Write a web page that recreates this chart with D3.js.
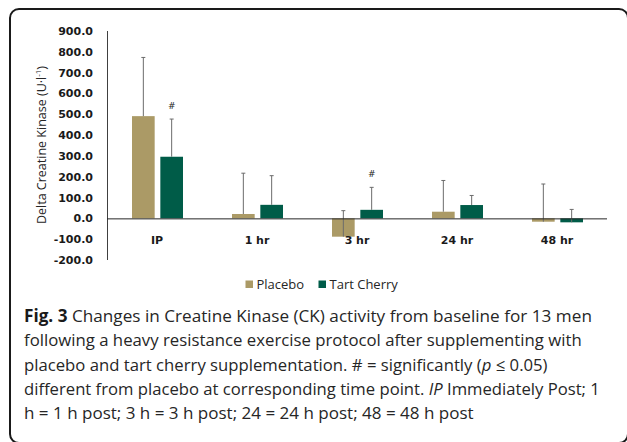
<!DOCTYPE html>
<html>
<head>
<meta charset="utf-8">
<script src="https://cdn.jsdelivr.net/npm/d3@7"></script>
<style>
  body { margin: 0; background: #fff; }
</style>
</head>
<body>
<div id="chart"></div>
<script>
const width = 627;
const height = 442;

const timePoints = ["IP", "1 hr", "3 hr", "24 hr", "48 hr"];
const seriesNames = ["Placebo", "Tart Cherry"];
const placeboMean = [491, 21, -88, 32, -16];
const placeboSD = [282, 196, 125, 150, 181];
const cherryMean = [296, 65, 41, 64, -19];
const cherrySD = [181, 140, 108, 46, 62];
const significant = [true, false, true, false, false];
const yTicks = [-200, -100, 0, 100, 200, 300, 400, 500, 600, 700, 800, 900];

const color = d3.scaleOrdinal()
  .domain(seriesNames)
  .range(["#ab9a66", "#005c48"]);

const rows = [];
timePoints.forEach(function(t, i) {
  rows.push({ time: t, series: "Placebo", mean: placeboMean[i], sd: placeboSD[i], sig: false });
  rows.push({ time: t, series: "Tart Cherry", mean: cherryMean[i], sd: cherrySD[i], sig: significant[i] });
});

const svg = d3.select("#chart")
  .append("svg")
  .attr("width", width)
  .attr("height", height);

// rounded frame round the figure (runs off the right and bottom edges)
svg.append("rect")
  .attr("x", 10)
  .attr("y", 9)
  .attr("width", 618)
  .attr("height", 434)
  .attr("rx", 9)
  .attr("fill", "none")
  .attr("stroke", "#1a1a1a")
  .attr("stroke-width", 2);

const x = d3.scaleBand()
  .domain(timePoints)
  .range([107, 607]);

const xInner = d3.scaleBand()
  .domain(seriesNames)
  .range([25, 76])
  .paddingInner(0.2);

const y = d3.scaleLinear()
  .domain([-200, 900])
  .range([260, 31]);

// y axis line and labels
svg.append("line")
  .attr("x1", 107.5).attr("x2", 107.5)
  .attr("y1", y(900)).attr("y2", y(-200))
  .attr("stroke", "#404040");

svg.selectAll(".ytick")
  .data(yTicks)
  .enter()
  .append("text")
  .attr("x", 93)
  .attr("y", function(d) { return y(d); })
  .attr("dy", "0.36em")
  .attr("text-anchor", "end")
  .style("font", "bold 11px 'DejaVu Sans'")
  .attr("fill", "#1a1a1a")
  .text(function(d) { return d3.format(".1f")(d).replace("−", "-"); });

const title = svg.append("text")
  .attr("transform", "translate(46," + 145 + ") rotate(-90)")
  .attr("text-anchor", "middle")
  .style("font", "12.5px 'Open Sans'")
  .attr("fill", "#262626");
title.append("tspan").text("Delta Creatine Kinase (U·l");
title.append("tspan").attr("baseline-shift", "super").style("font-size", "8px").text("-1");
title.append("tspan").text(")");

// bars
const group = svg.selectAll(".bar")
  .data(rows)
  .enter()
  .append("g")
  .attr("transform", function(d) {
    return "translate(" + (x(d.time) + xInner(d.series)) + ",0)";
  });

group.append("rect")
  .attr("y", function(d) { return y(Math.max(0, d.mean)); })
  .attr("width", xInner.bandwidth())
  .attr("height", function(d) { return Math.abs(y(d.mean) - y(0)); })
  .attr("fill", function(d) { return color(d.series); });

// error bars (plus direction only)
const bw = xInner.bandwidth();
group.append("line")
  .attr("x1", bw / 2).attr("x2", bw / 2)
  .attr("y1", function(d) { return y(d.mean); })
  .attr("y2", function(d) { return y(d.mean + d.sd); })
  .attr("stroke", "#6b6b6b")
  .attr("stroke-width", 1);

group.append("line")
  .attr("x1", bw / 2 - 2).attr("x2", bw / 2 + 2)
  .attr("y1", function(d) { return y(d.mean + d.sd); })
  .attr("y2", function(d) { return y(d.mean + d.sd); })
  .attr("stroke", "#6b6b6b")
  .attr("stroke-width", 1);

group.filter(function(d) { return d.sig; })
  .append("text")
  .attr("x", bw / 2)
  .attr("y", function(d) { return y(d.mean + d.sd) - 10; })
  .attr("text-anchor", "middle")
  .style("font", "9px 'DejaVu Sans'")
  .attr("fill", "#262626")
  .text("#");

// zero line
svg.append("line")
  .attr("x1", 107).attr("x2", 607)
  .attr("y1", y(0) + 0.5).attr("y2", y(0) + 0.5)
  .attr("stroke", "#262626");

// category labels
svg.selectAll(".xlabel")
  .data(timePoints)
  .enter()
  .append("text")
  .attr("x", function(d) { return x(d) + x.bandwidth() / 2; })
  .attr("y", 244)
  .attr("text-anchor", "middle")
  .style("font", "bold 11px 'DejaVu Sans'")
  .attr("fill", "#1a1a1a")
  .text(function(d) { return d; });

// legend
const legendX = [245.5, 318.5];
const legend = svg.selectAll(".legend")
  .data(seriesNames)
  .enter()
  .append("g")
  .attr("transform", function(d, i) { return "translate(" + legendX[i] + ",280.5)"; });

legend.append("rect")
  .attr("width", 7.5)
  .attr("height", 7.5)
  .attr("fill", function(d) { return color(d); });

legend.append("text")
  .attr("x", 11)
  .attr("y", 8)
  .style("font", "13px 'Open Sans'")
  .attr("fill", "#262626")
  .text(function(d) { return d; });

// caption: each line is a list of [text, style] pieces
const captionLines = [
  [["Fig. 3", "bold"], [" Changes in Creatine Kinase (CK) activity from baseline for 13 men", ""]],
  [["following a heavy resistance exercise protocol after supplementing with", ""]],
  [["placebo and tart cherry supplementation. # = significantly (", ""], ["p", "italic"], [" ≤ 0.05)", ""]],
  [["different from placebo at corresponding time point. ", ""], ["IP", "italic"], [" Immediately Post; 1", ""]],
  [["h = 1 h post; 3 h = 3 h post; 24 = 24 h post; 48 = 48 h post", ""]]
];
const lineEnds = [592, 582, 548, 600, 474];

captionLines.forEach(function(pieces, i) {
  const g = svg.append("g");
  const t = g.append("text")
    .attr("x", 0)
    .attr("y", 0)
    .style("font", "17px 'Open Sans'")
    .attr("fill", "#262626");
  pieces.forEach(function(p) {
    const s = t.append("tspan").text(p[0]);
    if (p[1] === "bold") s.style("font-weight", "bold").attr("fill", "#1a1a1a");
    if (p[1] === "italic") s.style("font-style", "italic");
  });
  const natural = t.node().getComputedTextLength();
  const k = (lineEnds[i] - 24) / natural;
  g.attr("transform", "translate(24," + (322 + i * 24.3) + ") scale(" + k + ",1)");
});
</script>
</body>
</html>
